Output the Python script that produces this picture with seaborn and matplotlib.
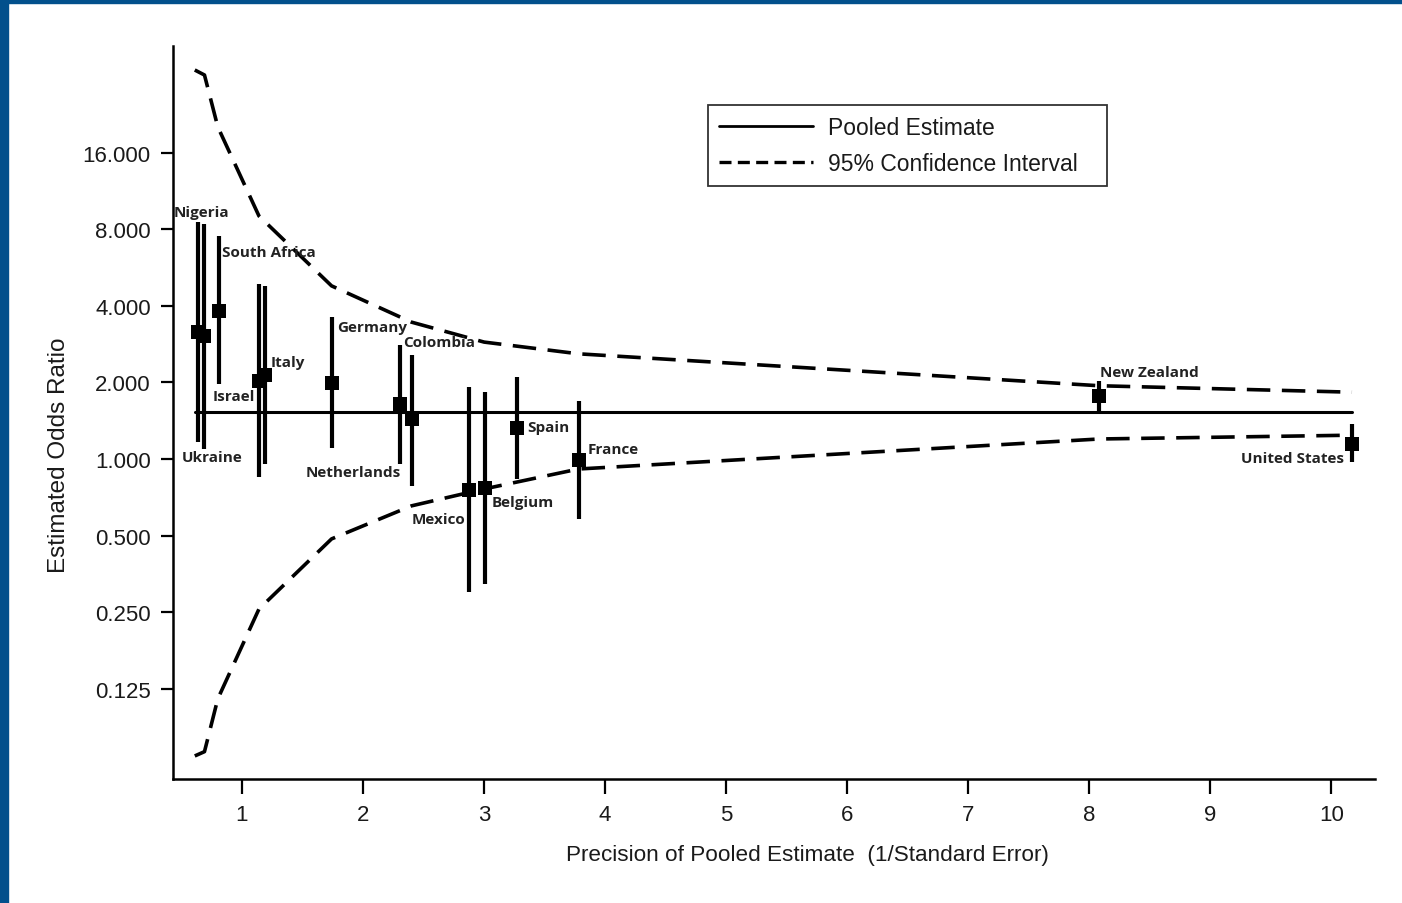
import matplotlib
matplotlib.use("Agg")
import matplotlib.pyplot as plt
from matplotlib.lines import Line2D
from matplotlib.patches import Rectangle
import seaborn as sns
import pandas as pd

# ---------------- data ----------------
countries = ["Nigeria", "Ukraine", "South Africa", "Israel", "Italy", "Germany",
             "Netherlands", "Colombia", "Mexico", "Belgium", "Spain", "France",
             "New Zealand", "United States"]
precision = [0.634, 0.686, 0.81, 1.14, 1.19, 1.744, 2.306, 2.405, 2.876, 3.008,
             3.273, 3.785, 8.083, 10.174]
odds_ratio = [3.16, 3.04, 3.82, 2.03, 2.14, 1.99, 1.645, 1.436, 0.755, 0.77,
              1.32, 0.99, 1.77, 1.145]
or_lower = [1.17, 1.095, 1.97, 0.85, 0.956, 1.10, 0.956, 0.783, 0.30, 0.323,
            0.835, 0.58, 1.54, 0.97]
or_upper = [8.54, 8.39, 7.52, 4.87, 4.78, 3.61, 2.81, 2.56, 1.92, 1.83,
            2.10, 1.69, 2.03, 1.37]

pooled_estimate = 1.53
pooled_x = [0.61, 10.17]

ci_x = [0.61, 0.69, 0.80, 1.14, 1.74, 2.40, 3.00, 3.78, 8.08, 10.17]
ci_upper = [33.8, 32.3, 20.2, 9.02, 4.79, 3.45, 2.88, 2.59, 1.94, 1.83]
ci_lower = [0.068, 0.0707, 0.114, 0.257, 0.485, 0.654, 0.762, 0.913, 1.198, 1.24]

y_ticks = [0.125, 0.25, 0.5, 1, 2, 4, 8, 16]
x_ticks = [1, 2, 3, 4, 5, 6, 7, 8, 9, 10]

# label offsets in pixels (dx, dy, ha)
label_offsets = {
    "Nigeria": (-24, 120, "left"),
    "Ukraine": (-22, -121, "left"),
    "South Africa": (3, 59, "left"),
    "Israel": (-4, -15, "right"),
    "Italy": (6, 13, "left"),
    "Germany": (5, 56, "left"),
    "Netherlands": (1, -68, "right"),
    "Colombia": (-9, 77, "left"),
    "Mexico": (-4, -29, "right"),
    "Belgium": (7, -14, "left"),
    "Spain": (10, 1, "left"),
    "France": (9, 11, "left"),
    "New Zealand": (1, 24, "left"),
    "United States": (-8, -14, "right"),
}

df = pd.DataFrame({"country": countries, "precision": precision,
                   "odds": odds_ratio, "lo": or_lower, "hi": or_upper})

# ---------------- style ----------------
sns.set_theme(style="white")
plt.rcParams["font.family"] = ["Liberation Sans", "DejaVu Sans"]

fig = plt.figure(figsize=(14.02, 9.04), dpi=100)
ax = fig.add_axes([173 / 1402, 1 - 780 / 904, (1375 - 173) / 1402, (780 - 47) / 904])

# blue frame strips
fig.patches.append(Rectangle((0, 0), 8 / 1402, 1, transform=fig.transFigure,
                             color="#02508C", zorder=10))
fig.patches.append(Rectangle((0, 1 - 4 / 904), 1, 4 / 904, transform=fig.transFigure,
                             color="#02508C", zorder=10))

# CI curves
sns.lineplot(x=ci_x, y=ci_upper, ax=ax, color="black", lw=2.6,
             linestyle=(0, (6.5, 3.2)), sort=False, estimator=None)
sns.lineplot(x=ci_x, y=ci_lower, ax=ax, color="black", lw=2.6,
             linestyle=(0, (6.5, 3.2)), sort=False, estimator=None)
# pooled line
sns.lineplot(x=pooled_x, y=[pooled_estimate] * len(pooled_x), ax=ax,
             color="black", lw=2.2, estimator=None)

# error bars
ax.vlines(df["precision"], df["lo"], df["hi"], color="black", lw=3.0, zorder=3)
sns.scatterplot(data=df, x="precision", y="odds", ax=ax, marker="s", s=95,
                color="black", edgecolor="black", linewidth=0, zorder=4)

for c, x, y in zip(countries, precision, odds_ratio):
    dx, dy, ha = label_offsets[c]
    ax.annotate(c, xy=(x, y), xytext=(dx, dy), textcoords="offset pixels",
                ha=ha, va="center", fontsize=11, fontweight="bold",
                color="#222222", family=["Open Sans", "DejaVu Sans"])

ax.set_yscale("log", base=2)
ax.set_xlim(0.43, 10.36)
ax.set_ylim(0.0552, 42.0)
ax.set_yticks(y_ticks)
ax.set_yticklabels([f"{v:.3f}" for v in y_ticks])
ax.set_xticks(x_ticks)
ax.set_xticklabels([str(v) for v in x_ticks])
ax.minorticks_off()
ax.yaxis.set_minor_locator(matplotlib.ticker.NullLocator())

for s in ["top", "right"]:
    ax.spines[s].set_visible(False)
for s in ["left", "bottom"]:
    ax.spines[s].set_color("black")
    ax.spines[s].set_linewidth(1.8)

ax.tick_params(axis="both", which="major", direction="out", width=1.6,
               color="black", labelsize=16, labelcolor="#1a1a1a",
               left=True, bottom=True)
ax.tick_params(axis="y", length=9, pad=7)
ax.tick_params(axis="x", length=11, pad=7)

ax.set_xlabel("Precision of Pooled Estimate  (1/Standard Error)", fontsize=16.2,
              color="#1a1a1a")
ax.set_ylabel("Estimated Odds Ratio", fontsize=17.5, color="#1a1a1a")
ax.xaxis.set_label_coords(0.528, -0.088)
ax.yaxis.set_label_coords(-0.086, 0.443)
ax.xaxis.label.set_va("top")

handles = [Line2D([], [], color="black", lw=2.0),
           Line2D([], [], color="black", lw=2.4, linestyle=(0, (3.6, 1.9)))]
leg = ax.legend(handles, ["Pooled Estimate", "95% Confidence Interval"],
                loc="upper left", bbox_to_anchor=(0.445, 0.812, 0.332, 0.1075),
                mode="expand", borderaxespad=0, frameon=True, fancybox=False,
                fontsize=16.5, handlelength=4.1, handletextpad=0.65,
                labelspacing=0.57, borderpad=0.48)
leg.get_frame().set_edgecolor("black")
leg.get_frame().set_linewidth(1.3)
for t in leg.get_texts():
    t.set_color("#1a1a1a")

fig.savefig("out.png", dpi=100)
